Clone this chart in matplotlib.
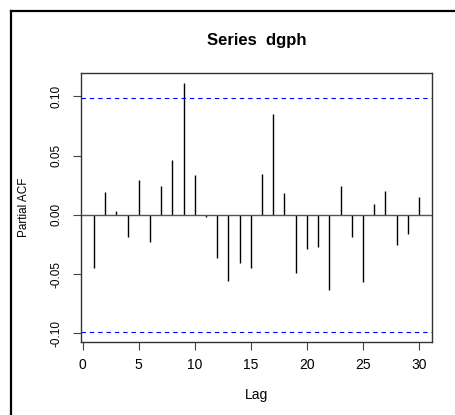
import numpy as np
import matplotlib
matplotlib.use("Agg")
import matplotlib.pyplot as plt
from matplotlib.lines import Line2D

plt.rcParams['font.family'] = ['Liberation Sans', 'DejaVu Sans']

# partial autocorrelations
lags = np.arange(1, 31)
pacf = [-0.0448, 0.0191, 0.0036, -0.0189, 0.0290, -0.0228, 0.0239, 0.0459,
        0.1113, 0.0335, -0.0020, -0.0364, -0.0555, -0.0403, -0.0448, 0.0346,
        0.0853, 0.0186, -0.0493, -0.0290, -0.0273, -0.0637, 0.0239, -0.0189,
        -0.0570, 0.0087, 0.0197, -0.0254, -0.0164, 0.0149]
clim = 0.099
xticks = [0, 5, 10, 15, 20, 25, 30]
yticks = [-0.10, -0.05, 0.00, 0.05, 0.10]
ytick_labels = ["-0.10", "-0.05", "0.00", "0.05", "0.10"]

fig = plt.figure(figsize=(4.56, 4.15), dpi=100)
ax = fig.add_axes([0.1776, 0.1759, 0.7697, 0.6482])

ax.vlines(lags, 0, pacf, color="black", linewidth=1.0)
ax.axhline(0, color="#555555", linewidth=1.0)
ax.axhline(clim, color="blue", linewidth=0.8, linestyle=(0, (4, 3.5)))
ax.axhline(-clim, color="blue", linewidth=0.8, linestyle=(0, (4, 3.5)))

lo = min(min(pacf), -clim)
hi = max(max(pacf), clim)
pad = (hi - lo) * 0.04
ax.set_ylim(lo - pad, hi + pad)
ax.set_xlim(1 - 29 * 0.04, 30 + 29 * 0.04)

ax.set_xticks(xticks)
ax.set_yticks(yticks)
ax.set_yticklabels(ytick_labels, rotation=90, va="center")
ax.tick_params(direction="out", length=5.5, width=0.8, color="#444444")
ax.tick_params(axis="x", labelsize=10, pad=6)
ax.tick_params(axis="y", labelsize=8.5, pad=7.5)
for s in ax.spines.values():
    s.set_color("#333333")
    s.set_linewidth(1.0)

ax.set_xlabel("Lag", fontsize=10, labelpad=11.5)
ax.set_ylabel("Partial ACF", fontsize=8.5, labelpad=15)
ax.set_title("Series  dgph", fontsize=12, fontweight="bold", pad=20.5)

# outer frame (left and top edges only)
fig.add_artist(Line2D([11.5 / 456, 11.5 / 456], [0, 1 - 11.5 / 415],
                      transform=fig.transFigure, color="black", linewidth=1.6))
fig.add_artist(Line2D([11.5 / 456, 1], [1 - 11.5 / 415, 1 - 11.5 / 415],
                      transform=fig.transFigure, color="black", linewidth=1.6))

fig.savefig("out.png", dpi=100)
